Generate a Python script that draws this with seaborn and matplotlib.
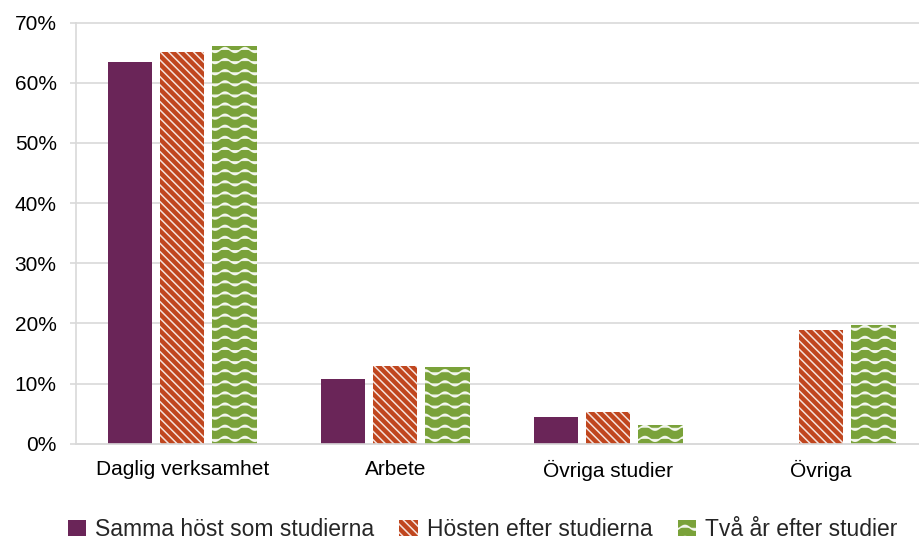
import warnings
warnings.filterwarnings("ignore")
import numpy as np
import pandas as pd
import matplotlib
matplotlib.use("Agg")
import matplotlib.pyplot as plt
import matplotlib.hatch as mhatch
from matplotlib.path import Path
from matplotlib.patches import Patch
from matplotlib.ticker import PercentFormatter, FixedLocator
import seaborn as sns

# ---------------- data ----------------
categories = ["Daglig verksamhet", "Arbete", "Övriga studier", "Övriga"]
series_names = ["Samma höst som studierna", "Hösten efter studierna", "Två år efter studier"]
samma_host = [0.634, 0.108, 0.044, np.nan]
hosten_efter = [0.651, 0.130, 0.052, 0.189]
tva_ar_efter = [0.662, 0.127, 0.031, 0.198]
y_ticks = [0.0, 0.1, 0.2, 0.3, 0.4, 0.5, 0.6, 0.7]

# ---------------- styles ----------------
colors = ["#6A2558", "#C0461E", "#7AA23A"]
hatches = [None, "\\\\\\\\", "~"]
grid_color = "#D9D9D9"
hatch_rgba = (1.0, 1.0, 1.0, 0.85)


class WaveHatch(mhatch.HatchPatternBase):
    """Wavy-line hatch pattern used for the third series."""
    def __init__(self, hatch, density):
        self.rows = 9 if "~" in hatch else 0
        self.npts = 81
        self.num_vertices = self.rows * self.npts

    def set_vertices_and_codes(self, vertices, codes):
        x = np.linspace(0.0, 1.0, self.npts)
        k = 0
        for i in range(self.rows):
            y0 = (i + 0.5) / self.rows
            vertices[k:k + self.npts, 0] = x
            vertices[k:k + self.npts, 1] = y0 + 0.024 * np.sin(2 * np.pi * 5 * x)
            codes[k] = Path.MOVETO
            codes[k + 1:k + self.npts] = Path.LINETO
            k += self.npts


mhatch._hatch_types.append(WaveHatch)

sns.set_style("white")
plt.rcParams["font.family"] = ["Liberation Sans", "DejaVu Sans"]
plt.rcParams["hatch.linewidth"] = 1.1

wide = pd.DataFrame(
    {series_names[0]: samma_host, series_names[1]: hosten_efter, series_names[2]: tva_ar_efter},
    index=categories,
)
long = wide.reset_index(names="Kategori").melt(
    id_vars="Kategori", var_name="Tidpunkt", value_name="Andel"
)

fig = plt.figure(figsize=(9.19, 5.41), dpi=100)
ax = fig.add_axes([75.7 / 919, 97.3 / 541, 852 / 919, 421 / 541])

sns.barplot(
    data=long, x="Kategori", y="Andel", hue="Tidpunkt",
    order=categories, hue_order=series_names, palette=colors,
    width=0.737, gap=0.15, saturation=1, errorbar=None, legend=False, ax=ax,
)

for cont, h in zip(ax.containers, hatches):
    for bar in cont:
        bar.set_edgecolor(hatch_rgba)
        bar.set_linewidth(0)
        if h:
            bar.set_hatch(h)

ax.set_xlim(-0.5, len(categories) - 0.5)
ax.set_ylim(0, 0.7)
ax.yaxis.set_major_locator(FixedLocator(y_ticks))
ax.yaxis.set_major_formatter(PercentFormatter(1.0, decimals=0))
ax.set_xlabel("")
ax.set_ylabel("")

ax.grid(axis="y", color=grid_color, linewidth=1.2)
ax.grid(axis="x", visible=False)
ax.set_axisbelow(True)
for gl in ax.get_ygridlines():
    gl.set_clip_on(False)
for s in ["top", "right"]:
    ax.spines[s].set_visible(False)
for s in ["left", "bottom"]:
    ax.spines[s].set_color(grid_color)
    ax.spines[s].set_linewidth(1.2)

ax.tick_params(axis="y", length=4.3, width=1.2, color=grid_color, pad=9.4,
               labelsize=15, labelcolor="black", left=True)
ax.tick_params(axis="x", length=0, pad=11.5, labelsize=15, labelcolor="black")

handles = [Patch(facecolor=c, edgecolor=hatch_rgba, linewidth=0, hatch=h)
           for c, h in zip(colors, hatches)]
fig.legend(handles, series_names, loc="center", bbox_to_anchor=(0.525, 0.021),
           ncol=3, frameon=False, fontsize=16.45, handlelength=0.8,
           handleheight=0.72, handletextpad=0.4, columnspacing=1.1, borderpad=0)

fig.savefig("out.png", dpi=100)
